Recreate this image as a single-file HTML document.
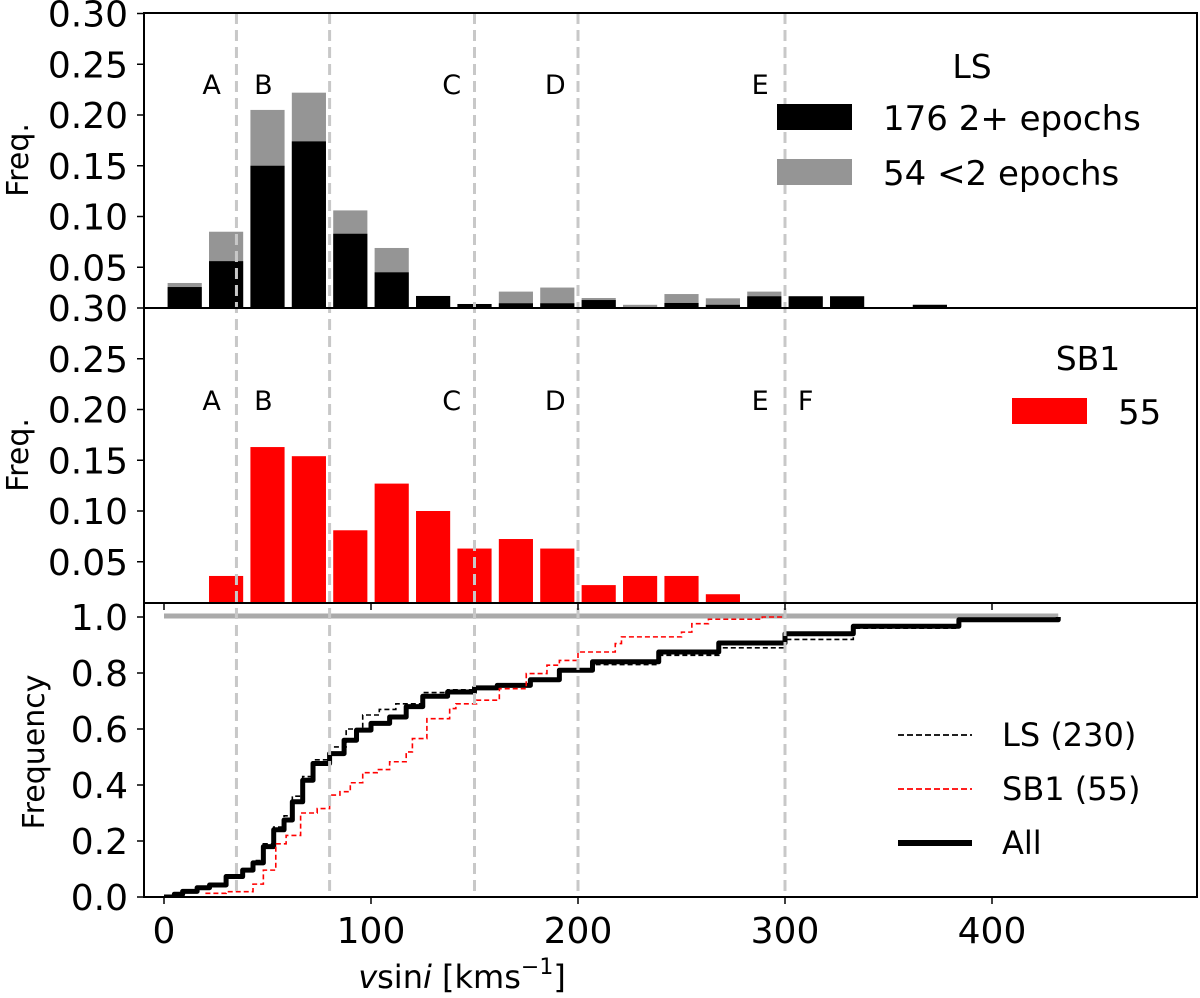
<!DOCTYPE html>
<html><head><meta charset="utf-8">
<style>
html,body{margin:0;padding:0;background:#fff;overflow:hidden;}
svg{display:block;font-family:"DejaVu Sans","Liberation Sans",sans-serif;}
</style></head>
<body>
<svg id="fig" width="1200" height="998" viewBox="0 0 1200 998" xmlns="http://www.w3.org/2000/svg">
<defs>
<clipPath id="c1"><rect x="144" y="13" width="1053" height="295"/></clipPath>
<clipPath id="c2"><rect x="144" y="308" width="1053" height="295"/></clipPath>
<clipPath id="c3"><rect x="144" y="603" width="1053" height="294"/></clipPath>
</defs>
<g id="p1"></g>
<g id="p2"></g>
<g id="p3"></g>
<g id="ax"></g>
<text transform="translate(28,160) rotate(-90)" font-size="30" text-anchor="middle">Freq.</text>
<text transform="translate(28,455) rotate(-90)" font-size="30" text-anchor="middle">Freq.</text>
<text transform="translate(44,752) rotate(-90)" font-size="30" text-anchor="middle">Frequency</text>
<text x="462" y="988" font-size="32" text-anchor="middle"><tspan font-style="italic">v</tspan>sin<tspan font-style="italic">i</tspan> [kms<tspan dy="-14" font-size="22">−1</tspan><tspan dy="14">]</tspan></text>
<g>
  <text x="972" y="78" font-size="33" text-anchor="middle">LS</text>
  <rect x="777" y="104" width="75" height="26" fill="#000"/>
  <text x="883" y="130" font-size="34">176 2+ epochs</text>
  <rect x="777" y="159" width="75" height="26" fill="#959595"/>
  <text x="883" y="185" font-size="34">54 &lt;2 epochs</text>
</g>
<g>
  <text x="1088" y="370" font-size="33" text-anchor="middle">SB1</text>
  <rect x="1012" y="398" width="75" height="26" fill="#ff0000"/>
  <text x="1118" y="424" font-size="34">55</text>
</g>
<g>
  <line x1="898" x2="972" y1="735" y2="735" stroke="#000" stroke-width="1.8" stroke-dasharray="6,3"/>
  <text x="1002" y="746" font-size="32">LS (230)</text>
  <line x1="898" x2="972" y1="789" y2="789" stroke="#ff0000" stroke-width="1.8" stroke-dasharray="6,3"/>
  <text x="1002" y="800" font-size="32">SB1 (55)</text>
  <line x1="898" x2="972" y1="843" y2="843" stroke="#000" stroke-width="6"/>
  <text x="1002" y="854" font-size="32">All</text>
</g>
</svg>
<script>
// ---- data ----
const binCenters = [10,30,50,70,90,110,130,150,170,190,210,230,250,270,290,310,330,350,370];
const lsMultiEpoch = [0.0305,0.056,0.150,0.174,0.083,0.045,0.0217,0.0138,0.0145,0.0145,0.0177,0,0.0148,0.013,0.0214,0.0214,0.0214,0,0.013];
const lsTotal = [0.0345,0.085,0.205,0.222,0.106,0.069,0.0217,0.0138,0.026,0.030,0.0197,0.013,0.0236,0.0194,0.026,0.0214,0.0214,0,0.013];
const sb1Centers = [30,50,70,90,110,130,150,170,190,210,230,250,270];
const sb1Values = [0.036,0.163,0.154,0.081,0.127,0.100,0.063,0.0724,0.063,0.027,0.036,0.036,0.018];
const allX = [0,5,9,16,22,30,38,43,48,53,58,62,67,72,80,87,93,100,109,117,125,137,150,161,177,191,207,239,268,300,333,384,432];
const allY = [0,0.01,0.02,0.033,0.043,0.073,0.096,0.122,0.18,0.24,0.275,0.34,0.417,0.477,0.512,0.56,0.596,0.62,0.643,0.68,0.717,0.732,0.747,0.756,0.776,0.81,0.84,0.875,0.907,0.94,0.967,0.99,1.0];
const lsX = [0,5,9,16,22,30,38,43,48,53,58,62,67,72,80,88,96,104,112,125,137,150,161,177,191,207,239,268,300,333,384,432];
const lsY = [0,0.01,0.02,0.035,0.045,0.075,0.1,0.13,0.19,0.25,0.29,0.36,0.43,0.49,0.536,0.6,0.65,0.67,0.69,0.73,0.74,0.75,0.757,0.775,0.805,0.83,0.863,0.89,0.92,0.96,0.99,1.0];
const sb1X = [20,30,43,48,54,59,66,74,80,85,90,96,103,109,117,120,127,138,141,151,162,175,185,191,200,218,221,250,255,263,289,300];
const sb1Y = [0.013,0.019,0.046,0.096,0.19,0.22,0.3,0.316,0.364,0.376,0.408,0.444,0.455,0.483,0.518,0.566,0.637,0.673,0.69,0.703,0.744,0.798,0.828,0.845,0.875,0.905,0.929,0.946,0.976,0.992,1.0,1.0];
const classBounds = [35,80,150,200,300];
const classLabels1 = ["A","B","C","D","E"];
const classLabelX1 = [23,48,139,189,288];
const classLabels2 = ["A","B","C","D","E","F"];
const classLabelX2 = [23,48,139,189,288,310];
const histTicks = [0.30,0.25,0.20,0.15,0.10,0.05];
const cdfTicks = [1.0,0.8,0.6,0.4,0.2,0.0];
const xTicks = [0,100,200,300,400];

// ---- scales ----
const X = v => 164 + v*2.07;
const Y1 = v => 318 - v*1015;
const Y2 = v => 612.5 - v*1015;
const Y3 = v => 897 - v*280;
const NS = "http://www.w3.org/2000/svg";
function mk(tag, attrs, parent){ const e=document.createElementNS(NS,tag); for(const k in attrs) e.setAttribute(k,attrs[k]); parent.appendChild(e); return e; }
const p1=document.getElementById('p1'), p2=document.getElementById('p2'), p3=document.getElementById('p3'), ax=document.getElementById('ax');
const BW = 16.5;

const g1 = mk('g',{'clip-path':'url(#c1)'},p1);
binCenters.forEach((c,i)=>{
  if(lsTotal[i]>0){
    const r=mk('rect',{x:X(c-BW/2),y:Y1(lsTotal[i]),width:BW*2.07,height:Y1(0)-Y1(lsTotal[i]),fill:'#959595'},g1);
    
    
  }
  if(lsMultiEpoch[i]>0){
    const r=mk('rect',{x:X(c-BW/2),y:Y1(lsMultiEpoch[i]),width:BW*2.07,height:Y1(0)-Y1(lsMultiEpoch[i]),fill:'#000'},g1);
    
    
  }
});
const g2 = mk('g',{'clip-path':'url(#c2)'},p2);
sb1Centers.forEach((c,i)=>{
  const r=mk('rect',{x:X(c-BW/2),y:Y2(sb1Values[i]),width:BW*2.07,height:Y2(0)-Y2(sb1Values[i]),fill:'#ff0000'},g2);
  
  
});

classBounds.forEach(b=>{
  const l=mk('line',{x1:X(b),x2:X(b),y1:13,y2:897,stroke:'#c8c8c8','stroke-width':3,'stroke-dasharray':'11,6'},ax);
  
  
});
classLabels1.forEach((t,i)=>{
  const e=mk('text',{x:X(classLabelX1[i]),y:94,'font-size':27,'text-anchor':'middle'},p1); e.textContent=t;
  
  
});
classLabels2.forEach((t,i)=>{
  const e=mk('text',{x:X(classLabelX2[i]),y:410,'font-size':27,'text-anchor':'middle'},p2); e.textContent=t;
  
  
});

const g3 = mk('g',{'clip-path':'url(#c3)'},p3);
const gl=mk('line',{x1:X(0),x2:X(432),y1:Y3(1)-1,y2:Y3(1)-1,stroke:'#aaaaaa','stroke-width':5},g3);


function stepPath(xs,ys,Yf){ let d='M'+X(xs[0])+','+Yf(ys[0]); for(let i=1;i<xs.length;i++){ d+=' L'+X(xs[i])+','+Yf(ys[i-1])+' L'+X(xs[i])+','+Yf(ys[i]); } return d; }
const pa=mk('path',{d:stepPath(allX,allY,Y3),fill:'none',stroke:'#000','stroke-width':5,'stroke-linejoin':'round'},g3);


const pl=mk('path',{d:stepPath(lsX,lsY,Y3),fill:'none',stroke:'#000','stroke-width':1.6,'stroke-dasharray':'5,3'},g3);


const ps=mk('path',{d:stepPath(sb1X,sb1Y,Y3),fill:'none',stroke:'#ff0000','stroke-width':1.6,'stroke-dasharray':'5,3'},g3);



[[13,308],[308,603],[603,897]].forEach(([t,b])=>{
  const r=mk('rect',{x:144,y:t,width:1053,height:b-t,fill:'none',stroke:'#000','stroke-width':2},ax);
  
  
});
histTicks.forEach(v=>{
  [Y1,Y2].forEach(Yf=>{
    const y=Yf(v);
    const tk=mk('line',{x1:137,x2:144,y1:y,y2:y,stroke:'#000','stroke-width':1.5},ax);
    
    
    const t=mk('text',{x:128,y:y+13,'font-size':36,'text-anchor':'end'},ax); t.textContent=v.toFixed(2);
    
    
  });
});
cdfTicks.forEach(v=>{
  const y=Y3(v);
  const tk=mk('line',{x1:137,x2:144,y1:y,y2:y,stroke:'#000','stroke-width':1.5},ax);
  
  
  const t=mk('text',{x:128,y:y+13,'font-size':36,'text-anchor':'end'},ax); t.textContent=v.toFixed(1);
  
  
});
xTicks.forEach(v=>{
  const x=X(v);
  const tk=mk('line',{x1:x,x2:x,y1:897,y2:904,stroke:'#000','stroke-width':1.5},ax);
  
  
  const tt=mk('line',{x1:x,x2:x,y1:603,y2:610,stroke:'#000','stroke-width':1.5},ax);
  
  
  const t=mk('text',{x:x,y:943,'font-size':36,'text-anchor':'middle'},ax); t.textContent=String(v);
  
  
});
</script>
</body></html>
